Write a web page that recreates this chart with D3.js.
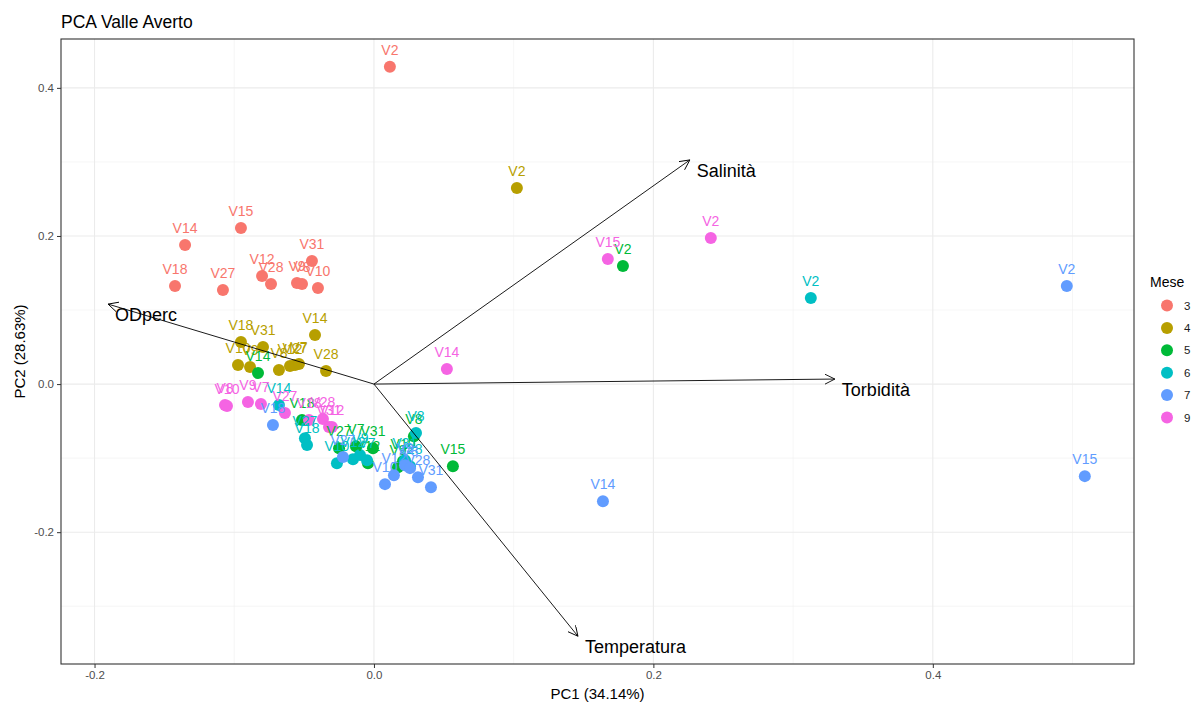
<!DOCTYPE html>
<html>
<head>
<meta charset="utf-8">
<script src="https://cdn.jsdelivr.net/npm/d3@7"></script>
<style>
  body { margin: 0; background: #fff; }
  text { font-family: "Liberation Sans", Arial, sans-serif; }
</style>
</head>
<body>
<script>
// SVG size
var svgWidth = 1195;
var svgHeight = 702;

// panel margins
var margin = { top: 39, right: 61, bottom: 38, left: 61 };
var panelRight = 1134;

// months (legend) and ggplot hue colours
var mesi = ["3", "4", "5", "6", "7", "9"];
var colori = ["#F8766D", "#B79F00", "#00BA38", "#00BFC4", "#619CFF", "#F564E3"];

// scores per month: [site, PC1, PC2]
var mese3 = [
  ["V2", 0.0114, 0.4284], ["V15", -0.0952, 0.2108], ["V14", -0.1352, 0.1878],
  ["V18", -0.1424, 0.1324], ["V27", -0.1081, 0.1270], ["V12", -0.0801, 0.1459],
  ["V28", -0.0737, 0.1351], ["V31", -0.0444, 0.1662], ["V9", -0.0551, 0.1365],
  ["V8", -0.0515, 0.1351], ["V10", -0.0401, 0.1297]
];
var mese4 = [
  ["V2", 0.1023, 0.2649], ["V14", -0.0422, 0.0662], ["V18", -0.0952, 0.0568],
  ["V31", -0.0794, 0.0500], ["V10", -0.0973, 0.0257], ["V9", -0.0887, 0.0230],
  ["V8", -0.0680, 0.0189], ["V12", -0.0601, 0.0243], ["V27", -0.0565, 0.0257],
  ["V7", -0.0537, 0.0270], ["V28", -0.0343, 0.0176]
];
var mese5 = [
  ["V2", 0.1782, 0.1595], ["V14", -0.0830, 0.0149], ["V15", 0.0565, -0.1108],
  ["V18", -0.0515, -0.0486], ["V27", -0.0250, -0.0865], ["V7", -0.0129, -0.0838],
  ["V31", -0.0007, -0.0865], ["V12", -0.0043, -0.1068], ["V9", 0.0172, -0.1122],
  ["V10", 0.0208, -0.1041], ["V8", 0.0286, -0.0703]
];
var mese6 = [
  ["V2", 0.3127, 0.1162], ["V14", -0.0680, -0.0284], ["V27", -0.0494, -0.0730],
  ["V18", -0.0479, -0.0824], ["V8", 0.0301, -0.0662], ["V10", -0.0265, -0.1068],
  ["V12", -0.0150, -0.1014], ["V9", -0.0100, -0.0959], ["V7", -0.0050, -0.1027],
  ["V31", 0.0222, -0.1027], ["V28", 0.0258, -0.1108]
];
var mese7 = [
  ["V2", 0.4959, 0.1324], ["V15", 0.5088, -0.1243], ["V14", 0.1639, -0.1581],
  ["V18", -0.0723, -0.0554], ["V27", -0.0222, -0.0986], ["V10", 0.0079, -0.1351],
  ["V12", 0.0143, -0.1230], ["V9", 0.0222, -0.1095], ["V8", 0.0258, -0.1135],
  ["V28", 0.0315, -0.1257], ["V31", 0.0408, -0.1392]
];
var mese9 = [
  ["V2", 0.2411, 0.1973], ["V15", 0.1674, 0.1689], ["V14", 0.0522, 0.0203],
  ["V8", -0.1066, -0.0284], ["V10", -0.1052, -0.0297], ["V9", -0.0902, -0.0243],
  ["V7", -0.0809, -0.0270], ["V27", -0.0637, -0.0392], ["V18", -0.0465, -0.0486],
  ["V28", -0.0365, -0.0473], ["V31", -0.0322, -0.0581], ["V12", -0.0301, -0.0581]
];

// loadings (arrows)
var variabili = ["Salinità", "ODperc", "Torbidità", "Temperatura"];
var varPC1 = [0.2261, -0.1903, 0.3299, 0.1460];
var varPC2 = [0.3027, 0.1080, 0.0068, -0.3405];

// axis ticks
var xTicks = [-0.2, 0.0, 0.2, 0.4];
var xMinor = [-0.1, 0.1, 0.3, 0.5];
var yTicks = [-0.2, 0.0, 0.2, 0.4];
var yMinor = [-0.3, -0.1, 0.1, 0.3];

var tutti = [mese3, mese4, mese5, mese6, mese7, mese9];
var punti = [];
tutti.forEach(function(arr, i) {
  arr.forEach(function(d) {
    punti.push({ sito: d[0], pc1: d[1], pc2: d[2], mese: mesi[i] });
  });
});

var svg = d3.select("body").append("svg")
  .attr("width", svgWidth)
  .attr("height", svgHeight);

var xScale = d3.scaleLinear().domain([-0.224, 0.544]).range([margin.left, panelRight]);
var yScale = d3.scaleLinear().domain([-0.378, 0.466]).range([svgHeight - margin.bottom, margin.top]);
var colore = d3.scaleOrdinal().domain(mesi).range(colori);

var panelTop = margin.top, panelBottom = svgHeight - margin.bottom;

// grid lines
var grid = svg.append("g");
xMinor.forEach(function(v) {
  grid.append("line").attr("x1", xScale(v)).attr("x2", xScale(v))
    .attr("y1", panelTop).attr("y2", panelBottom)
    .attr("stroke", "#f0f0f0").attr("stroke-width", 0.6);
});
yMinor.forEach(function(v) {
  grid.append("line").attr("x1", margin.left).attr("x2", panelRight)
    .attr("y1", yScale(v)).attr("y2", yScale(v))
    .attr("stroke", "#f0f0f0").attr("stroke-width", 0.6);
});
xTicks.forEach(function(v) {
  grid.append("line").attr("x1", xScale(v)).attr("x2", xScale(v))
    .attr("y1", panelTop).attr("y2", panelBottom)
    .attr("stroke", "#ebebeb").attr("stroke-width", 1.1);
});
yTicks.forEach(function(v) {
  grid.append("line").attr("x1", margin.left).attr("x2", panelRight)
    .attr("y1", yScale(v)).attr("y2", yScale(v))
    .attr("stroke", "#ebebeb").attr("stroke-width", 1.1);
});

// points
svg.append("g").selectAll("circle")
  .data(punti)
  .enter().append("circle")
  .attr("cx", d => xScale(d.pc1))
  .attr("cy", d => yScale(d.pc2))
  .attr("r", 6)
  .attr("fill", d => colore(d.mese));

// point labels
svg.append("g").selectAll("text")
  .data(punti)
  .enter().append("text")
  .attr("x", d => xScale(d.pc1))
  .attr("y", d => yScale(d.pc2) - 12)
  .attr("text-anchor", "middle")
  .attr("font-size", "14px")
  .attr("fill", d => colore(d.mese))
  .text(d => d.sito);

// arrows
svg.append("defs").append("marker")
  .attr("id", "freccia")
  .attr("markerUnits", "userSpaceOnUse")
  .attr("markerWidth", 12).attr("markerHeight", 12)
  .attr("refX", 10).attr("refY", 5)
  .attr("orient", "auto")
  .append("path")
  .attr("d", "M0,0 L10,5 L0,10")
  .attr("fill", "none")
  .attr("stroke", "black")
  .attr("stroke-width", 0.9);

var frecce = svg.append("g");
variabili.forEach(function(v, i) {
  frecce.append("line")
    .attr("x1", xScale(0)).attr("y1", yScale(0))
    .attr("x2", xScale(varPC1[i])).attr("y2", yScale(varPC2[i]))
    .attr("stroke", "black").attr("stroke-width", 0.9)
    .attr("marker-end", "url(#freccia)");
  frecce.append("text")
    .attr("x", xScale(varPC1[i]) + 7)
    .attr("y", yScale(varPC2[i]) + 17)
    .attr("font-size", "18px")
    .attr("fill", "black")
    .text(v);
});

// panel border
svg.append("rect")
  .attr("x", margin.left).attr("y", panelTop)
  .attr("width", panelRight - margin.left).attr("height", panelBottom - panelTop)
  .attr("fill", "none").attr("stroke", "#333").attr("stroke-width", 1.1);

// axes (plain hyphen for negatives, like R)
var fmt = d => d.toFixed(1);
var xAxis = svg.append("g")
  .attr("transform", `translate(0, ${panelBottom})`)
  .call(d3.axisBottom(xScale).tickValues(xTicks).tickFormat(fmt).tickSize(4).tickPadding(3));
var yAxis = svg.append("g")
  .attr("transform", `translate(${margin.left}, 0)`)
  .call(d3.axisLeft(yScale).tickValues(yTicks).tickFormat(fmt).tickSize(4).tickPadding(3));
[xAxis, yAxis].forEach(function(a) {
  a.select(".domain").remove();
  a.selectAll("line").attr("stroke", "#333");
  a.selectAll("text").attr("fill", "#4d4d4d").attr("font-size", "11.5px")
    .attr("font-family", "Liberation Sans, Arial, sans-serif");
});

// axis titles
svg.append("text")
  .attr("x", (margin.left + panelRight) / 2).attr("y", 699)
  .attr("text-anchor", "middle").attr("font-size", "15px")
  .text("PC1 (34.14%)");
svg.append("text")
  .attr("transform", `translate(25, ${(panelTop + panelBottom) / 2}) rotate(-90)`)
  .attr("text-anchor", "middle").attr("font-size", "15px")
  .text("PC2 (28.63%)");

// title
svg.append("text")
  .attr("x", margin.left).attr("y", 28)
  .attr("font-size", "17.5px")
  .text("PCA Valle Averto");

// legend
var legend = svg.append("g").attr("transform", "translate(1150, 0)");
legend.append("text").attr("x", 0).attr("y", 287).attr("font-size", "14px").text("Mese");
mesi.forEach(function(m, i) {
  legend.append("circle")
    .attr("cx", 17).attr("cy", 305.5 + i * 22.4).attr("r", 6)
    .attr("fill", colore(m));
  legend.append("text")
    .attr("x", 34).attr("y", 305.5 + i * 22.4).attr("dy", "0.35em")
    .attr("font-size", "11.5px").attr("fill", "#1a1a1a")
    .text(m);
});
</script>
</body>
</html>
